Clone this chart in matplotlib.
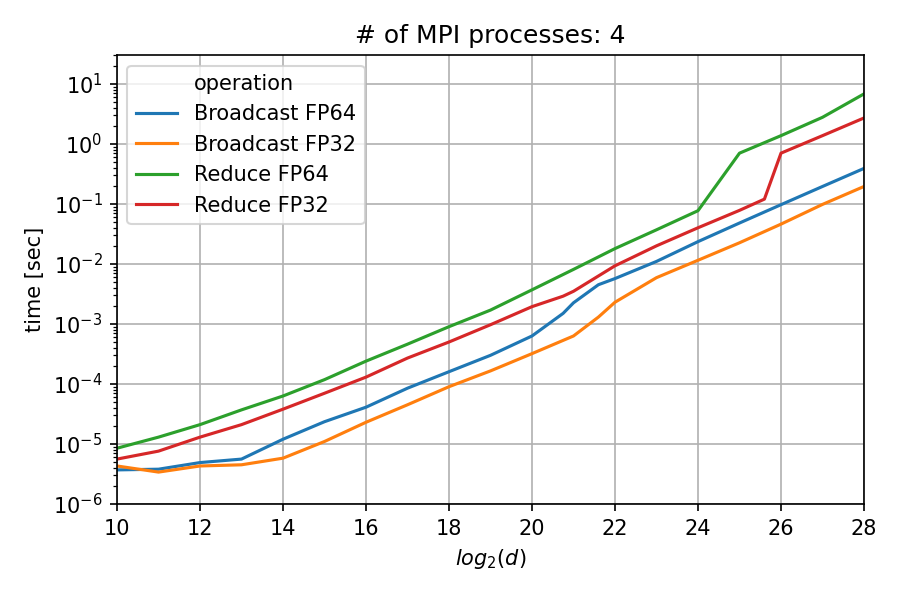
import matplotlib
matplotlib.use('Agg')
import matplotlib.pyplot as plt

# log2(d) positions and measured times [sec] per operation
x_bc64 = [10, 11, 12, 13, 14, 15, 16, 17, 18, 19, 20, 20.75, 21, 21.6, 22, 23, 24, 25, 26, 27, 28]
t_bc64 = [3.7e-6, 3.8e-6, 4.9e-6, 5.6e-6, 1.2e-5, 2.35e-5, 4.1e-5, 8.5e-5, 1.6e-4, 3.0e-4, 6.3e-4,
          1.5e-3, 2.25e-3, 4.5e-3, 5.7e-3, 1.1e-2, 2.35e-2, 4.8e-2, 9.7e-2, 0.195, 0.39]

x_bc32 = [10, 11, 12, 13, 14, 15, 16, 17, 18, 19, 20, 21, 21.6, 22, 23, 24, 25, 26, 27, 28]
t_bc32 = [4.3e-6, 3.4e-6, 4.3e-6, 4.5e-6, 5.8e-6, 1.1e-5, 2.3e-5, 4.5e-5, 9.0e-5, 1.65e-4, 3.2e-4,
          6.3e-4, 1.3e-3, 2.3e-3, 5.9e-3, 1.15e-2, 2.25e-2, 4.6e-2, 9.8e-2, 0.195]

x_rd64 = [10, 11, 12, 13, 14, 15, 16, 17, 18, 19, 20, 21, 22, 23, 24, 25, 26, 27, 28]
t_rd64 = [8.5e-6, 1.3e-5, 2.1e-5, 3.7e-5, 6.3e-5, 1.18e-4, 2.4e-4, 4.6e-4, 9.0e-4, 1.7e-3, 3.7e-3,
          8.1e-3, 1.8e-2, 3.7e-2, 7.7e-2, 0.70, 1.37, 2.77, 6.8]

x_rd32 = [10, 11, 12, 13, 14, 15, 16, 17, 18, 19, 20, 20.75, 21, 22, 23, 24, 25, 25.6, 26, 27, 28]
t_rd32 = [5.6e-6, 7.6e-6, 1.3e-5, 2.1e-5, 3.8e-5, 7.0e-5, 1.3e-4, 2.7e-4, 5.0e-4, 9.7e-4, 1.94e-3,
          2.9e-3, 3.5e-3, 9.3e-3, 2.0e-2, 4.0e-2, 7.8e-2, 0.12, 0.70, 1.37, 2.7]

series = [
    ('Broadcast FP64', x_bc64, t_bc64, '#1f77b4'),
    ('Broadcast FP32', x_bc32, t_bc32, '#ff7f0e'),
    ('Reduce FP64', x_rd64, t_rd64, '#2ca02c'),
    ('Reduce FP32', x_rd32, t_rd32, '#d62728'),
]

fig, ax = plt.subplots(figsize=(6, 4), dpi=150)
ax.plot([], [], color='none', label='operation')  # legend header like seaborn
for name, xs, ts, c in series:
    ax.plot(xs, ts, color=c, lw=1.5, label=name)

ax.set_yscale('log')
ax.set_xlim(10, 28)
ax.set_ylim(1e-6, 30)
ax.set_xticks(range(10, 29, 2))
ax.grid(True, which='major')
ax.set_title('# of MPI processes: 4')
ax.set_xlabel('$log_2(d)$')
ax.set_ylabel('time [sec]')
ax.legend(loc='upper left')

fig.subplots_adjust(left=0.13, right=0.96, top=0.908, bottom=0.16)
fig.savefig('out.png')
